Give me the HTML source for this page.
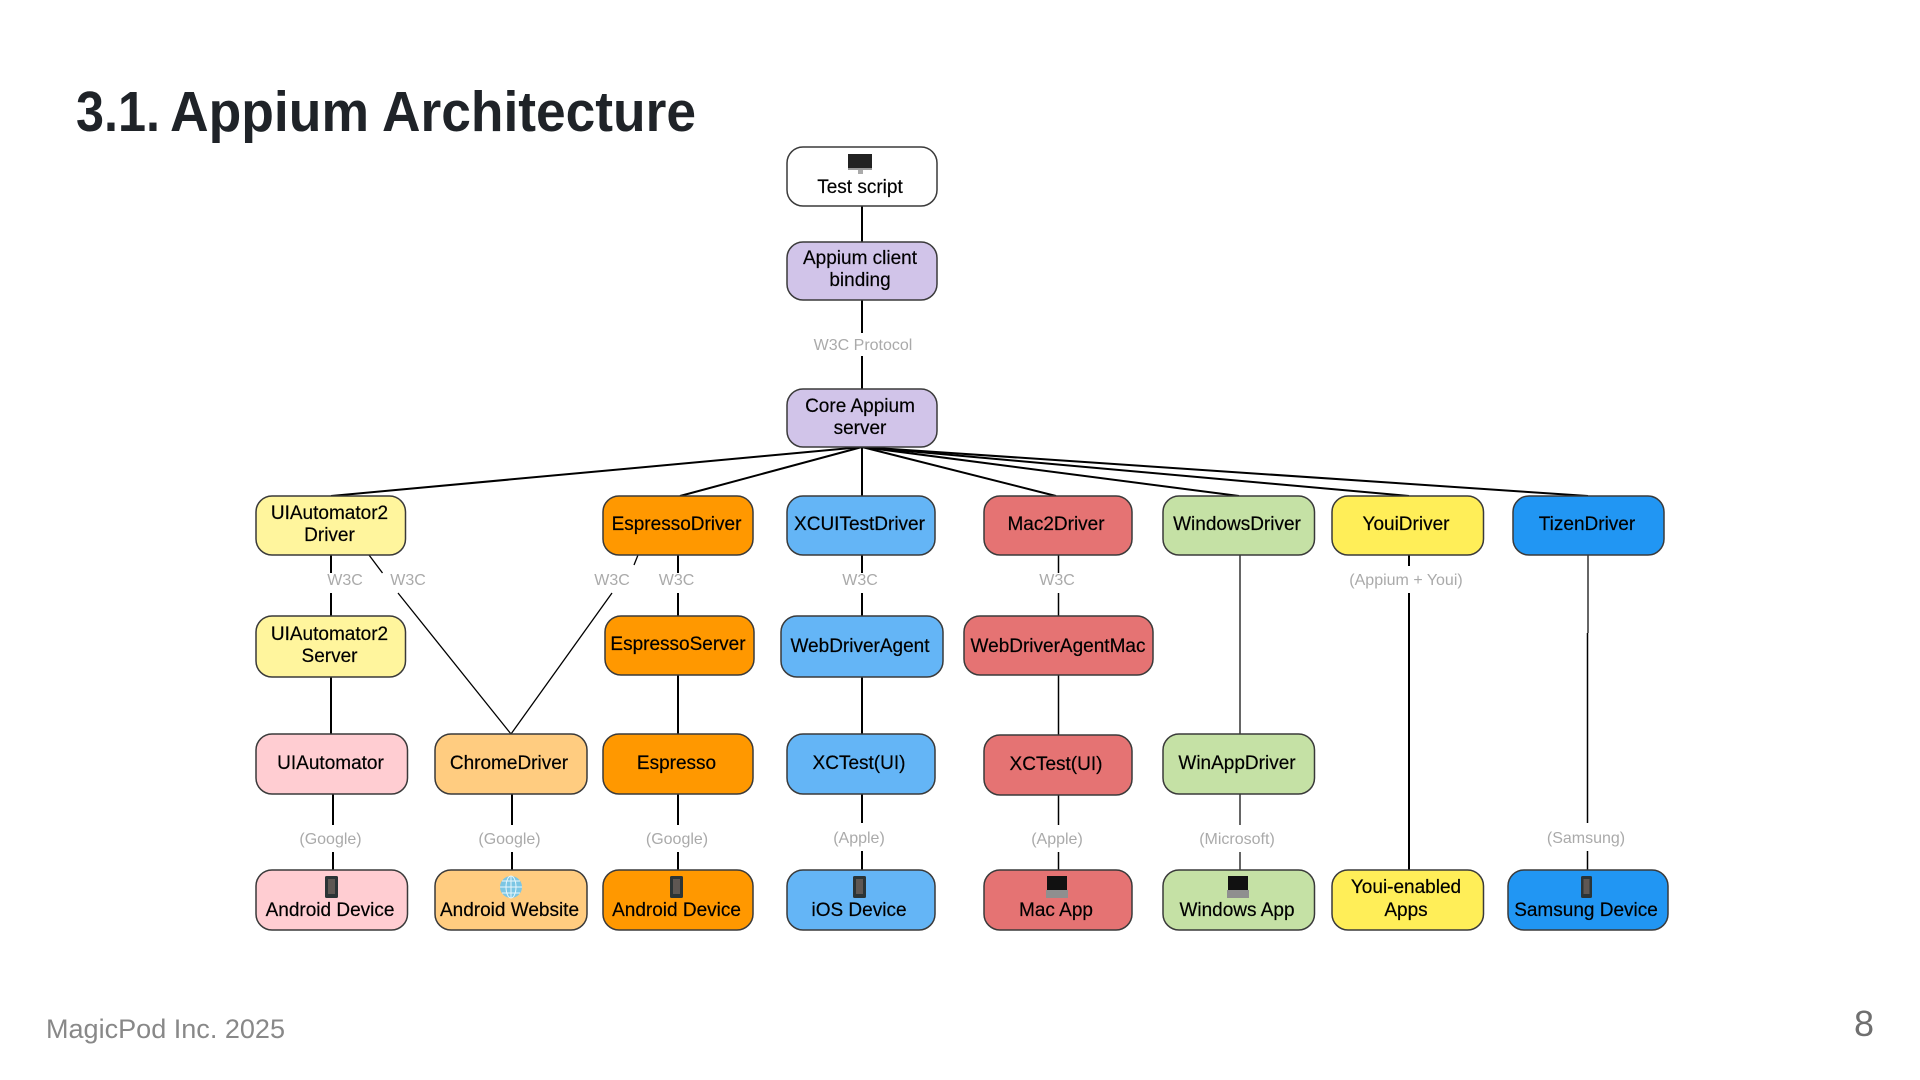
<!DOCTYPE html>
<html lang="en">
<head>
<meta charset="utf-8">
<title>3.1. Appium Architecture</title>
<style>
html,body{margin:0;padding:0;background:#fff;width:1920px;height:1080px;overflow:hidden}
svg{display:block;position:absolute;left:0;top:0}
text{font-family:"Liberation Sans",sans-serif}
.d{filter:blur(.35px)}
.n text{font-size:19px;fill:#000;stroke:#000;stroke-width:.18;text-anchor:middle}
.l text{font-size:16px;fill:#aaa;text-anchor:middle}
.b rect{stroke:#3a3a3a;stroke-width:1.5}
.c line{stroke:#000;stroke-width:2}
</style>
</head>
<body>
<svg width="1920" height="1080" viewBox="0 0 1920 1080" xmlns="http://www.w3.org/2000/svg">
<g font-size="57" font-weight="700" fill="#1f2328">
<text x="76" y="131" textLength="84" lengthAdjust="spacingAndGlyphs">3.1.</text>
<text x="170" y="131" textLength="199" lengthAdjust="spacingAndGlyphs">Appium</text>
<text x="382" y="131" textLength="314" lengthAdjust="spacingAndGlyphs">Architecture</text>
</g>
<text x="46" y="1038" font-size="27" fill="#888" textLength="239" lengthAdjust="spacingAndGlyphs">MagicPod Inc. 2025</text>
<text x="1864" y="1036" font-size="36" fill="#6f6f6f" text-anchor="middle">8</text>

<g class="d">
<g class="c">
<line x1="862" y1="206" x2="862" y2="242"/>
<line x1="862" y1="300" x2="862" y2="333"/>
<line x1="862" y1="356" x2="862" y2="389"/>
<line x1="862" y1="447" x2="331" y2="496"/>
<line x1="862" y1="447" x2="680" y2="496"/>
<line x1="862" y1="447" x2="862" y2="496"/>
<line x1="862" y1="447" x2="1056" y2="496"/>
<line x1="862" y1="447" x2="1239" y2="496"/>
<line x1="862" y1="447" x2="1409" y2="496"/>
<line x1="862" y1="447" x2="1588" y2="496"/>
<line x1="331" y1="555" x2="331" y2="573"/>
<line x1="331" y1="593" x2="331" y2="616"/>
<line x1="331" y1="677" x2="331" y2="734"/>
<line x1="333" y1="794" x2="333" y2="825"/>
<line x1="333" y1="852" x2="333" y2="870"/>
<line x1="512" y1="794" x2="512" y2="825"/>
<line x1="512" y1="852" x2="512" y2="870"/>
<line x1="678" y1="555" x2="678" y2="573"/>
<line x1="678" y1="593" x2="678" y2="616"/>
<line x1="678" y1="675" x2="678" y2="734"/>
<line x1="678" y1="794" x2="678" y2="825"/>
<line x1="678" y1="852" x2="678" y2="870"/>
<line x1="862" y1="555" x2="862" y2="573"/>
<line x1="862" y1="593" x2="862" y2="616"/>
<line x1="862" y1="677" x2="862" y2="734"/>
<line x1="862" y1="794" x2="862" y2="823"/>
<line x1="862" y1="851" x2="862" y2="870"/>
<line x1="1058.5" y1="555" x2="1058.5" y2="573" style="stroke-width:1.5"/>
<line x1="1058.5" y1="593" x2="1058.5" y2="616" style="stroke-width:1.5"/>
<line x1="1058.5" y1="675" x2="1058.5" y2="736" style="stroke-width:1.5"/>
<line x1="1058.5" y1="795" x2="1058.5" y2="825" style="stroke-width:1.5"/>
<line x1="1058.5" y1="852" x2="1058.5" y2="870" style="stroke-width:1.5"/>
<line x1="1240" y1="555" x2="1240" y2="734" style="stroke-width:1.2"/>
<line x1="1240" y1="794" x2="1240" y2="825" style="stroke-width:1.2"/>
<line x1="1240" y1="852" x2="1240" y2="870" style="stroke-width:1.2"/>
<line x1="1409" y1="555" x2="1409" y2="566"/>
<line x1="1409" y1="593" x2="1409" y2="870"/>
<line x1="1588" y1="555" x2="1588" y2="633" style="stroke:#555;stroke-width:1.8"/>
<line x1="1587.5" y1="633" x2="1587.5" y2="823" style="stroke-width:1.5"/>
<line x1="1587.5" y1="851" x2="1587.5" y2="870" style="stroke-width:1.5"/>
<line x1="369" y1="555" x2="382.5" y2="573" style="stroke-width:1.3"/>
<line x1="398" y1="593" x2="511" y2="734" style="stroke-width:1.3"/>
<line x1="638" y1="555" x2="634" y2="565" style="stroke-width:1.3"/>
<line x1="612" y1="593" x2="511" y2="734" style="stroke-width:1.3"/>
</g>

<g class="b">
<rect x="787" y="147" width="150" height="59" rx="16" fill="#fff"/>
<rect x="787" y="242" width="150" height="58" rx="16" fill="#d1c4e9"/>
<rect x="787" y="389" width="150" height="58" rx="16" fill="#d1c4e9"/>
<rect x="256" y="496" width="149.500" height="59" rx="16" fill="#fff59d"/>
<rect x="603" y="496" width="150" height="59" rx="16" fill="#ff9800"/>
<rect x="787" y="496" width="148" height="59" rx="16" fill="#64b5f6"/>
<rect x="984" y="496" width="148" height="59" rx="16" fill="#e57373"/>
<rect x="1163" y="496" width="151.500" height="59" rx="16" fill="#c5e1a5"/>
<rect x="1332" y="496" width="151.500" height="59" rx="16" fill="#ffee58"/>
<rect x="1513" y="496" width="151" height="59" rx="16" fill="#2196f3"/>
<rect x="256" y="616" width="149.500" height="61" rx="16" fill="#fff59d"/>
<rect x="605" y="616" width="149" height="59" rx="16" fill="#ff9800"/>
<rect x="781" y="616" width="162" height="61" rx="16" fill="#64b5f6"/>
<rect x="964" y="616" width="189" height="59" rx="16" fill="#e57373"/>
<rect x="256" y="734" width="151.500" height="60" rx="16" fill="#ffcdd2"/>
<rect x="435" y="734" width="152" height="60" rx="16" fill="#ffcc80"/>
<rect x="603" y="734" width="150" height="60" rx="16" fill="#ff9800"/>
<rect x="787" y="734" width="148" height="60" rx="16" fill="#64b5f6"/>
<rect x="984" y="735" width="148" height="60" rx="16" fill="#e57373"/>
<rect x="1163" y="734" width="151.500" height="60" rx="16" fill="#c5e1a5"/>
<rect x="256" y="870" width="151.500" height="60" rx="16" fill="#ffcdd2"/>
<rect x="435" y="870" width="152" height="60" rx="16" fill="#ffcc80"/>
<rect x="603" y="870" width="150" height="60" rx="16" fill="#ff9800"/>
<rect x="787" y="870" width="148" height="60" rx="16" fill="#64b5f6"/>
<rect x="984" y="870" width="148" height="60" rx="16" fill="#e57373"/>
<rect x="1163" y="870" width="151.500" height="60" rx="16" fill="#c5e1a5"/>
<rect x="1332" y="870" width="151.500" height="60" rx="16" fill="#ffee58"/>
<rect x="1508" y="870" width="160" height="60" rx="16" fill="#2196f3"/>
</g>

<!-- desktop icon -->
<rect x="848" y="154" width="24" height="15" fill="#222"/>
<rect x="848" y="168" width="24" height="2" fill="#999"/>
<rect x="858" y="170" width="5" height="4" fill="#aaa"/>
<!-- phones -->
<g fill="#2b3436">
<rect x="325" y="876" width="13" height="22" rx="1.500"/>
<rect x="670" y="876" width="13" height="22" rx="1.500"/>
<rect x="853" y="876" width="13" height="22" rx="1.500"/>
<rect x="1581" y="876" width="11" height="22" rx="1.500"/>
</g>
<g fill="#5e5753">
<rect x="328" y="879" width="7" height="15"/>
<rect x="673" y="879" width="7" height="15"/>
<rect x="856" y="879" width="7" height="15"/>
<rect x="1583.500" y="879" width="6" height="15"/>
</g>
<!-- globe -->
<circle cx="511" cy="887" r="11" fill="#7cc6e4"/>
<g fill="none" stroke="#e8f6fb" stroke-width="1">
<ellipse cx="511" cy="887" rx="5" ry="11"/>
<line x1="511" y1="876" x2="511" y2="898"/>
<line x1="500" y1="887" x2="522" y2="887"/>
<line x1="502" y1="881" x2="520" y2="881"/>
<line x1="502" y1="893" x2="520" y2="893"/>
</g>
<!-- laptops -->
<rect x="1047" y="876" width="20" height="14" fill="#111"/>
<rect x="1046" y="890" width="22" height="8" fill="#8f8f8f"/>
<rect x="1228" y="876" width="20" height="14" fill="#111"/>
<rect x="1227" y="890" width="22" height="8" fill="#8f8f8f"/>

<g class="n">
<text x="860" y="193">Test script</text>
<text x="860" y="264">Appium client</text>
<text x="860" y="286">binding</text>
<text x="860" y="412">Core Appium</text>
<text x="860" y="434">server</text>
<text x="329.500" y="519">UIAutomator2</text>
<text x="329.500" y="541">Driver</text>
<text x="676.500" y="530">EspressoDriver</text>
<text x="859.500" y="530">XCUITestDriver</text>
<text x="1056" y="530">Mac2Driver</text>
<text x="1237" y="530">WindowsDriver</text>
<text x="1406" y="530">YouiDriver</text>
<text x="1587" y="530">TizenDriver</text>
<text x="329.500" y="640">UIAutomator2</text>
<text x="329.500" y="662">Server</text>
<text x="678" y="650">EspressoServer</text>
<text x="860" y="652">WebDriverAgent</text>
<text x="1058" y="652">WebDriverAgentMac</text>
<text x="330.500" y="769">UIAutomator</text>
<text x="509" y="769">ChromeDriver</text>
<text x="676.500" y="769">Espresso</text>
<text x="859" y="769">XCTest(UI)</text>
<text x="1056" y="770">XCTest(UI)</text>
<text x="1237" y="769">WinAppDriver</text>
<text x="330" y="916">Android Device</text>
<text x="509.500" y="916">Android Website</text>
<text x="676.500" y="916">Android Device</text>
<text x="859" y="916">iOS Device</text>
<text x="1056" y="916">Mac App</text>
<text x="1237" y="916">Windows App</text>
<text x="1406" y="893">Youi-enabled</text>
<text x="1406" y="916">Apps</text>
<text x="1586" y="916">Samsung Device</text>
</g>

<g class="l">
<text x="863" y="350">W3C Protocol</text>
<text x="345" y="585">W3C</text>
<text x="408" y="585">W3C</text>
<text x="612" y="585">W3C</text>
<text x="676.500" y="585">W3C</text>
<text x="860" y="585">W3C</text>
<text x="1057" y="585">W3C</text>
<text x="1406" y="585">(Appium + Youi)</text>
<text x="330.500" y="844">(Google)</text>
<text x="509.500" y="844">(Google)</text>
<text x="677" y="844">(Google)</text>
<text x="859" y="843">(Apple)</text>
<text x="1057" y="844">(Apple)</text>
<text x="1237" y="844">(Microsoft)</text>
<text x="1586" y="843">(Samsung)</text>
</g>
</g>
</svg>
</body>
</html>
